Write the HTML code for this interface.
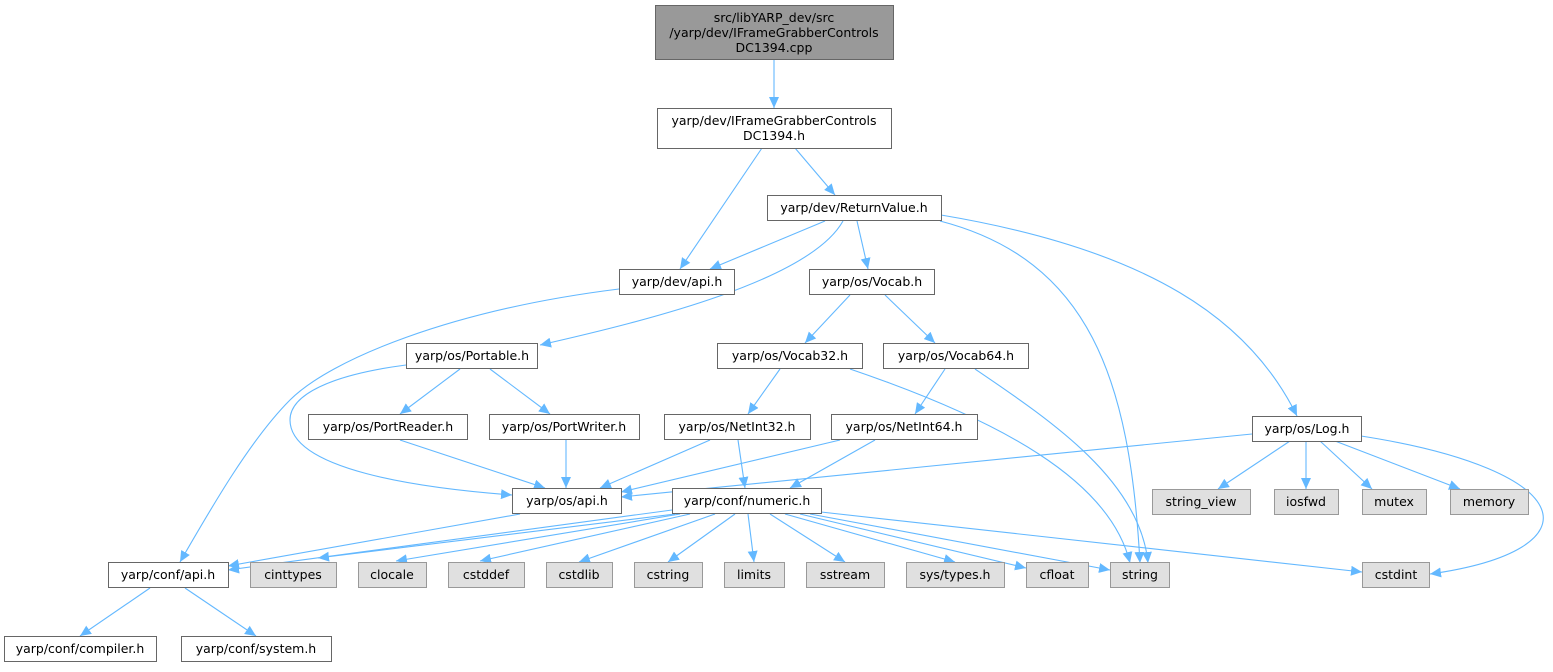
<!DOCTYPE html>
<html><head><meta charset="utf-8"><style>
html,body{margin:0;padding:0;background:#fff;}
svg text{font-family:"DejaVu Sans","Liberation Sans",sans-serif;font-size:12.5px;fill:#000;text-anchor:middle;}
</style></head><body>
<svg width="1553" height="667" viewBox="0 0 1553 667" xmlns="http://www.w3.org/2000/svg">
<defs><marker id="a" markerWidth="12" markerHeight="10" refX="11" refY="5" orient="auto" markerUnits="userSpaceOnUse"><path d="M0,0 L11,5 L0,10 z" fill="#63b8ff"/></marker></defs>
<g fill="none" stroke="#63b8ff" stroke-width="1.1" marker-end="url(#a)">
<path d="M774,60 L774,108"/>
<path d="M762,148 L680,269"/>
<path d="M795,148 L835,195"/>
<path d="M825,221 L710,269"/>
<path d="M843,221 C810,280 650,320 540,345"/>
<path d="M857,221 L868,269"/>
<path d="M940,221 C1090,260 1130,380 1140,563"/>
<path d="M941,215 C1150,250 1250,320 1297,416"/>
<path d="M619,289 C450,310 330,360 290,400 C250,440 210,510 180,562"/>
<path d="M406,365 C330,375 290,395 290,420 C290,470 420,488 512,495"/>
<path d="M460,369 L400,414"/>
<path d="M490,369 L550,414"/>
<path d="M850,295 L805,343"/>
<path d="M885,295 L935,343"/>
<path d="M780,369 L748,414"/>
<path d="M850,369 C1000,420 1110,480 1130,563"/>
<path d="M945,369 L915,414"/>
<path d="M975,369 C1050,420 1140,480 1148,563"/>
<path d="M400,440 L545,488"/>
<path d="M566,440 L566,488"/>
<path d="M710,440 L600,488"/>
<path d="M738,440 L745,488"/>
<path d="M840,440 L621,492"/>
<path d="M875,440 L790,488"/>
<path d="M1252,434 L621,497"/>
<path d="M1290,441 L1218,489"/>
<path d="M1306,441 L1306,489"/>
<path d="M1320,441 L1372,489"/>
<path d="M1335,441 L1460,489"/>
<path d="M1361,436 C1580,470 1600,550 1430,574"/>
<path d="M520,514 L228,566"/>
<path d="M672,510 L228,570"/>
<path d="M675,514 L318,558"/>
<path d="M680,514 L396,561"/>
<path d="M690,514 L480,561"/>
<path d="M715,514 L579,562"/>
<path d="M735,514 L668,562"/>
<path d="M748,514 L754,562"/>
<path d="M770,514 L845,562"/>
<path d="M785,514 L955,562"/>
<path d="M800,514 L1026,568"/>
<path d="M810,514 L1110,570"/>
<path d="M821,512 L1362,572"/>
<path d="M150,588 L80,636"/>
<path d="M185,588 L256,636"/>
</g>
<g stroke="#666" stroke-width="1" fill="#fff">
<rect x="655.5" y="5.5" width="238" height="54" fill="#999"/>
<rect x="657.5" y="108.5" width="234" height="40"/>
<rect x="767.5" y="195.5" width="174" height="25"/>
<rect x="619.5" y="269.5" width="115" height="25"/>
<rect x="809.5" y="269.5" width="125" height="25"/>
<rect x="406.5" y="343.5" width="131" height="25"/>
<rect x="717.5" y="343.5" width="145" height="25"/>
<rect x="883.5" y="343.5" width="145" height="25"/>
<rect x="308.5" y="414.5" width="159" height="25"/>
<rect x="489.5" y="414.5" width="150" height="25"/>
<rect x="664.5" y="414.5" width="146" height="25"/>
<rect x="831.5" y="414.5" width="146" height="25"/>
<rect x="1252.5" y="416.5" width="109" height="25"/>
<rect x="512.5" y="488.5" width="109" height="25"/>
<rect x="672.5" y="488.5" width="149" height="25"/>
<rect x="108.5" y="562.5" width="120" height="25"/>
<rect x="4.5" y="636.5" width="152" height="25"/>
<rect x="181.5" y="636.5" width="150" height="25"/>
</g>
<g stroke="#999" stroke-width="1" fill="#e0e0e0">
<rect x="1152.5" y="489.5" width="98" height="25"/>
<rect x="1274.5" y="489.5" width="64" height="25"/>
<rect x="1362.5" y="489.5" width="64" height="25"/>
<rect x="1450.5" y="489.5" width="78" height="25"/>
<rect x="250.5" y="562.5" width="86" height="25"/>
<rect x="358.5" y="562.5" width="68" height="25"/>
<rect x="448.5" y="562.5" width="76" height="25"/>
<rect x="546.5" y="562.5" width="66" height="25"/>
<rect x="634.5" y="562.5" width="68" height="25"/>
<rect x="724.5" y="562.5" width="60" height="25"/>
<rect x="806.5" y="562.5" width="78" height="25"/>
<rect x="906.5" y="562.5" width="98" height="25"/>
<rect x="1026.5" y="562.5" width="62" height="25"/>
<rect x="1110.5" y="562.5" width="59" height="25"/>
<rect x="1362.5" y="562.5" width="67" height="25"/>
</g>
<text x="774" y="22">src/libYARP_dev/src</text>
<text x="774" y="37">/yarp/dev/IFrameGrabberControls</text>
<text x="774" y="52">DC1394.cpp</text>
<text x="774" y="125">yarp/dev/IFrameGrabberControls</text>
<text x="774" y="140">DC1394.h</text>
<text x="854" y="212">yarp/dev/ReturnValue.h</text>
<text x="677" y="286">yarp/dev/api.h</text>
<text x="872" y="286">yarp/os/Vocab.h</text>
<text x="472" y="360">yarp/os/Portable.h</text>
<text x="790" y="360">yarp/os/Vocab32.h</text>
<text x="956" y="360">yarp/os/Vocab64.h</text>
<text x="388" y="431">yarp/os/PortReader.h</text>
<text x="564" y="431">yarp/os/PortWriter.h</text>
<text x="737" y="431">yarp/os/NetInt32.h</text>
<text x="904" y="431">yarp/os/NetInt64.h</text>
<text x="1307" y="433">yarp/os/Log.h</text>
<text x="567" y="505">yarp/os/api.h</text>
<text x="747" y="505">yarp/conf/numeric.h</text>
<text x="1201" y="506">string_view</text>
<text x="1306" y="506">iosfwd</text>
<text x="1394" y="506">mutex</text>
<text x="1489" y="506">memory</text>
<text x="168" y="579">yarp/conf/api.h</text>
<text x="293" y="579">cinttypes</text>
<text x="392" y="579">clocale</text>
<text x="486" y="579">cstddef</text>
<text x="579" y="579">cstdlib</text>
<text x="668" y="579">cstring</text>
<text x="754" y="579">limits</text>
<text x="845" y="579">sstream</text>
<text x="955" y="579">sys/types.h</text>
<text x="1057" y="579">cfloat</text>
<text x="1140" y="579">string</text>
<text x="1396" y="579">cstdint</text>
<text x="80" y="653">yarp/conf/compiler.h</text>
<text x="256" y="653">yarp/conf/system.h</text>
</svg>
</body></html>
